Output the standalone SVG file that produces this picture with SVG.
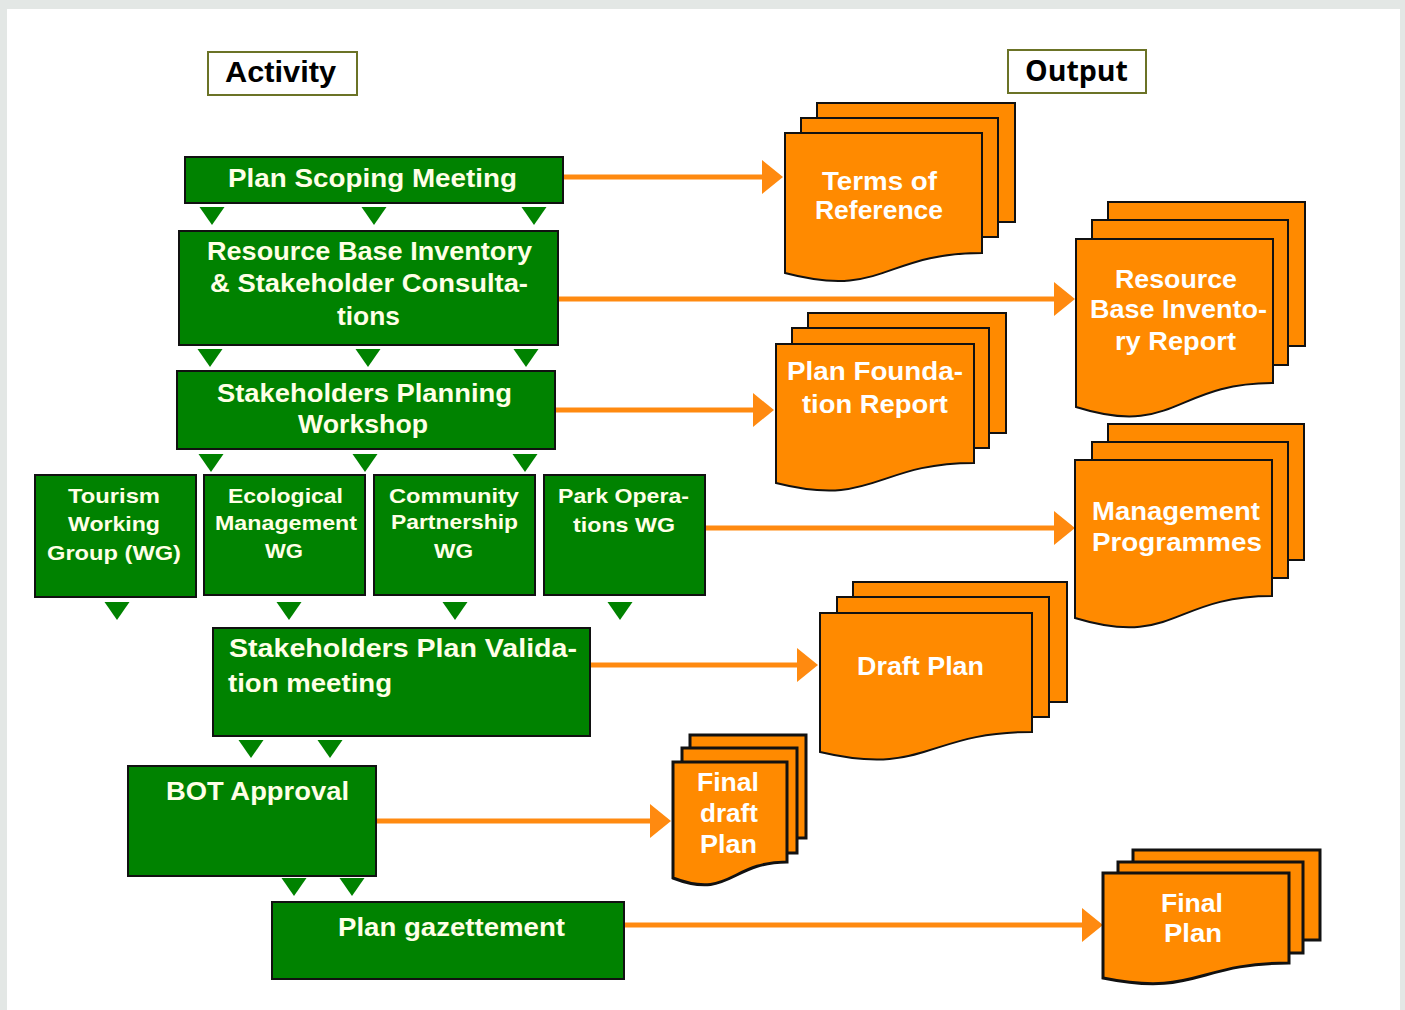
<svg xmlns="http://www.w3.org/2000/svg" xmlns:xlink="http://www.w3.org/1999/xlink" width="1405" height="1010" viewBox="0 0 1405 1010">
<style>
.hdr{fill:#fff;stroke:#6b7326;stroke-width:2}
.hdrt{font-family:"Liberation Sans",Arial,sans-serif;font-weight:bold;font-size:30px;fill:#000}
.act{fill:#008200;stroke:#111;stroke-width:2}
.at{font-family:"Liberation Sans",Arial,sans-serif;font-weight:bold;font-size:25px;fill:#ffffe6}
.wt{font-family:"Liberation Sans",Arial,sans-serif;font-weight:bold;font-size:21px;fill:#ffffe6}
.pg{fill:#ff8a00;stroke:#111;stroke-width:2}
.pg3{fill:#ff8a00;stroke:#111;stroke-width:3}
.dt{font-family:"Liberation Sans",Arial,sans-serif;font-weight:bold;font-size:25px;fill:#fff}
.flow{fill:none;stroke:#ff8a10;stroke-width:5}
.tri{fill:#008200}
</style>
<defs>
<marker id="ah" markerUnits="userSpaceOnUse" markerWidth="22" markerHeight="34" refX="0" refY="17" orient="auto">
<path d="M0,0 L21,17 L0,34 Z" fill="#ff8a10"/>
</marker>
<path id="tri" d="M-12.5,0 L12.5,0 L0,18 Z"/>
</defs>
<rect x="0" y="0" width="1405" height="1010" fill="#e3e7e5"/>
<rect x="7" y="9" width="1393" height="1001" fill="#fff"/>

<g id="hdr-activity"><rect class="hdr" x="208" y="52" width="149" height="43"/><text class="hdrt" x="225" y="82" textLength="111" lengthAdjust="spacingAndGlyphs">Activity</text></g>
<g id="hdr-output"><rect class="hdr" x="1008" y="50" width="138" height="43"/><text class="hdrt" style="font-family:'Open Sans','Liberation Sans',sans-serif;font-size:28px" x="1025" y="81" textLength="103" lengthAdjust="spacingAndGlyphs">Output</text></g>

<g id="connectors">
<path class="flow" d="M563,177 H762" marker-end="url(#ah)"/>
<path class="flow" d="M558,299 H1054" marker-end="url(#ah)"/>
<path class="flow" d="M555,410 H753" marker-end="url(#ah)"/>
<path class="flow" d="M705,528 H1054" marker-end="url(#ah)"/>
<path class="flow" d="M591,665 H797" marker-end="url(#ah)"/>
<path class="flow" d="M376,821 H650" marker-end="url(#ah)"/>
<path class="flow" d="M624,925 H1082" marker-end="url(#ah)"/>
<g class="tri">
<use xlink:href="#tri" x="212" y="207"/><use xlink:href="#tri" x="374" y="207"/><use xlink:href="#tri" x="534" y="207"/>
<use xlink:href="#tri" x="210" y="349"/><use xlink:href="#tri" x="368" y="349"/><use xlink:href="#tri" x="526" y="349"/>
<use xlink:href="#tri" x="211" y="454"/><use xlink:href="#tri" x="365" y="454"/><use xlink:href="#tri" x="525" y="454"/>
<use xlink:href="#tri" x="117" y="602"/><use xlink:href="#tri" x="289" y="602"/><use xlink:href="#tri" x="455" y="602"/><use xlink:href="#tri" x="620" y="602"/>
<use xlink:href="#tri" x="251" y="740"/><use xlink:href="#tri" x="330" y="740"/>
<use xlink:href="#tri" x="294" y="878"/><use xlink:href="#tri" x="352" y="878"/>
</g>
</g>

<g id="plan-scoping"><rect class="act" x="185" y="157" width="378" height="46"/>
<text class="at" x="228" y="187" textLength="289" lengthAdjust="spacingAndGlyphs">Plan Scoping Meeting</text></g>
<g id="resource-inventory"><rect class="act" x="179" y="231" width="379" height="114"/>
<text class="at" x="207" y="260" textLength="325" lengthAdjust="spacingAndGlyphs">Resource Base Inventory</text>
<text class="at" x="210" y="292" textLength="318" lengthAdjust="spacingAndGlyphs">&amp; Stakeholder Consulta-</text>
<text class="at" x="337" y="325" textLength="63" lengthAdjust="spacingAndGlyphs">tions</text></g>
<g id="planning-workshop"><rect class="act" x="177" y="371" width="378" height="78"/>
<text class="at" x="217" y="402" textLength="295" lengthAdjust="spacingAndGlyphs">Stakeholders Planning</text>
<text class="at" x="298" y="433" textLength="130" lengthAdjust="spacingAndGlyphs">Workshop</text></g>

<g id="wg-tourism"><rect class="act" x="35" y="475" width="161" height="122"/>
<text class="wt" x="68" y="503" textLength="92" lengthAdjust="spacingAndGlyphs">Tourism</text>
<text class="wt" x="68" y="531" textLength="92" lengthAdjust="spacingAndGlyphs">Working</text>
<text class="wt" x="47" y="560" textLength="134" lengthAdjust="spacingAndGlyphs">Group (WG)</text></g>
<g id="wg-ecological"><rect class="act" x="204" y="475" width="161" height="120"/>
<text class="wt" x="228" y="503" textLength="115" lengthAdjust="spacingAndGlyphs">Ecological</text>
<text class="wt" x="215" y="530" textLength="142" lengthAdjust="spacingAndGlyphs">Management</text>
<text class="wt" x="265" y="558" textLength="38" lengthAdjust="spacingAndGlyphs">WG</text></g>
<g id="wg-community"><rect class="act" x="374" y="475" width="161" height="120"/>
<text class="wt" x="389" y="503" textLength="130" lengthAdjust="spacingAndGlyphs">Community</text>
<text class="wt" x="391" y="529" textLength="127" lengthAdjust="spacingAndGlyphs">Partnership</text>
<text class="wt" x="434" y="558" textLength="39" lengthAdjust="spacingAndGlyphs">WG</text></g>
<g id="wg-park"><rect class="act" x="544" y="475" width="161" height="120"/>
<text class="wt" x="558" y="503" textLength="131" lengthAdjust="spacingAndGlyphs">Park Opera-</text>
<text class="wt" x="573" y="532" textLength="102" lengthAdjust="spacingAndGlyphs">tions WG</text></g>

<g id="validation"><rect class="act" x="213" y="628" width="377" height="108"/>
<text class="at" x="229" y="657" textLength="348" lengthAdjust="spacingAndGlyphs">Stakeholders Plan Valida-</text>
<text class="at" x="228" y="692" textLength="164" lengthAdjust="spacingAndGlyphs">tion meeting</text></g>
<g id="bot-approval"><rect class="act" x="128" y="766" width="248" height="110"/>
<text class="at" x="166" y="800" textLength="183" lengthAdjust="spacingAndGlyphs">BOT Approval</text></g>
<g id="gazettement"><rect class="act" x="272" y="902" width="352" height="77"/>
<text class="at" x="338" y="936" textLength="227" lengthAdjust="spacingAndGlyphs">Plan gazettement</text></g>

<g id="doc-tor">
<rect class="pg" x="817" y="103" width="198" height="119"/>
<rect class="pg" x="801" y="118" width="197" height="119"/>
<path class="pg" d="M785,133 H982 V253 C883.5,253 883.5,299 785,273 Z"/>
<text class="dt" x="822" y="190" textLength="115" lengthAdjust="spacingAndGlyphs">Terms of</text>
<text class="dt" x="815" y="219" textLength="128" lengthAdjust="spacingAndGlyphs">Reference</text></g>

<g id="doc-rbi">
<rect class="pg" x="1108" y="202" width="197" height="144"/>
<rect class="pg" x="1092" y="220" width="196" height="145"/>
<path class="pg" d="M1076,239 H1273 V383 C1174.5,383 1174.5,438 1076,407 Z"/>
<text class="dt" x="1115" y="288" textLength="122" lengthAdjust="spacingAndGlyphs">Resource</text>
<text class="dt" x="1090" y="318" textLength="177" lengthAdjust="spacingAndGlyphs">Base Invento-</text>
<text class="dt" x="1115" y="350" textLength="121" lengthAdjust="spacingAndGlyphs">ry Report</text></g>

<g id="doc-foundation">
<rect class="pg" x="808" y="313" width="198" height="120"/>
<rect class="pg" x="792" y="328" width="197" height="120"/>
<path class="pg" d="M776,344 H974 V463 C875,463 875,508 776,483 Z"/>
<text class="dt" x="787" y="380" textLength="176" lengthAdjust="spacingAndGlyphs">Plan Founda-</text>
<text class="dt" x="802" y="413" textLength="146" lengthAdjust="spacingAndGlyphs">tion Report</text></g>

<g id="doc-programmes">
<rect class="pg" x="1108" y="424" width="196" height="136"/>
<rect class="pg" x="1092" y="442" width="196" height="136"/>
<path class="pg" d="M1075,460 H1272 V596 C1173.5,596 1173.5,648 1075,618 Z"/>
<text class="dt" x="1092" y="520" textLength="168" lengthAdjust="spacingAndGlyphs">Management</text>
<text class="dt" x="1092" y="551" textLength="170" lengthAdjust="spacingAndGlyphs">Programmes</text></g>

<g id="doc-draft">
<rect class="pg" x="853" y="582" width="214" height="120"/>
<rect class="pg" x="837" y="597" width="212" height="120"/>
<path class="pg" d="M820,613 H1032 V732 C926,732 926,777 820,752 Z"/>
<text class="dt" x="857" y="675" textLength="127" lengthAdjust="spacingAndGlyphs">Draft Plan</text></g>

<g id="doc-final-draft">
<rect class="pg3" x="690" y="735" width="116" height="103"/>
<rect class="pg3" x="682" y="748" width="115" height="105"/>
<path class="pg3" d="M673,762 H787 V862 C730,862 730,900 673,878 Z"/>
<text class="dt" x="697" y="791" textLength="62" lengthAdjust="spacingAndGlyphs">Final</text>
<text class="dt" x="700" y="822" textLength="58" lengthAdjust="spacingAndGlyphs">draft</text>
<text class="dt" x="700" y="853" textLength="57" lengthAdjust="spacingAndGlyphs">Plan</text></g>

<g id="doc-final">
<rect class="pg3" x="1133" y="850" width="187" height="90"/>
<rect class="pg3" x="1118" y="862" width="185" height="91"/>
<path class="pg3" d="M1103,873 H1289 V963 C1196,963 1196,997 1103,978 Z"/>
<text class="dt" x="1161" y="912" textLength="62" lengthAdjust="spacingAndGlyphs">Final</text>
<text class="dt" x="1164" y="942" textLength="58" lengthAdjust="spacingAndGlyphs">Plan</text></g>
</svg>
